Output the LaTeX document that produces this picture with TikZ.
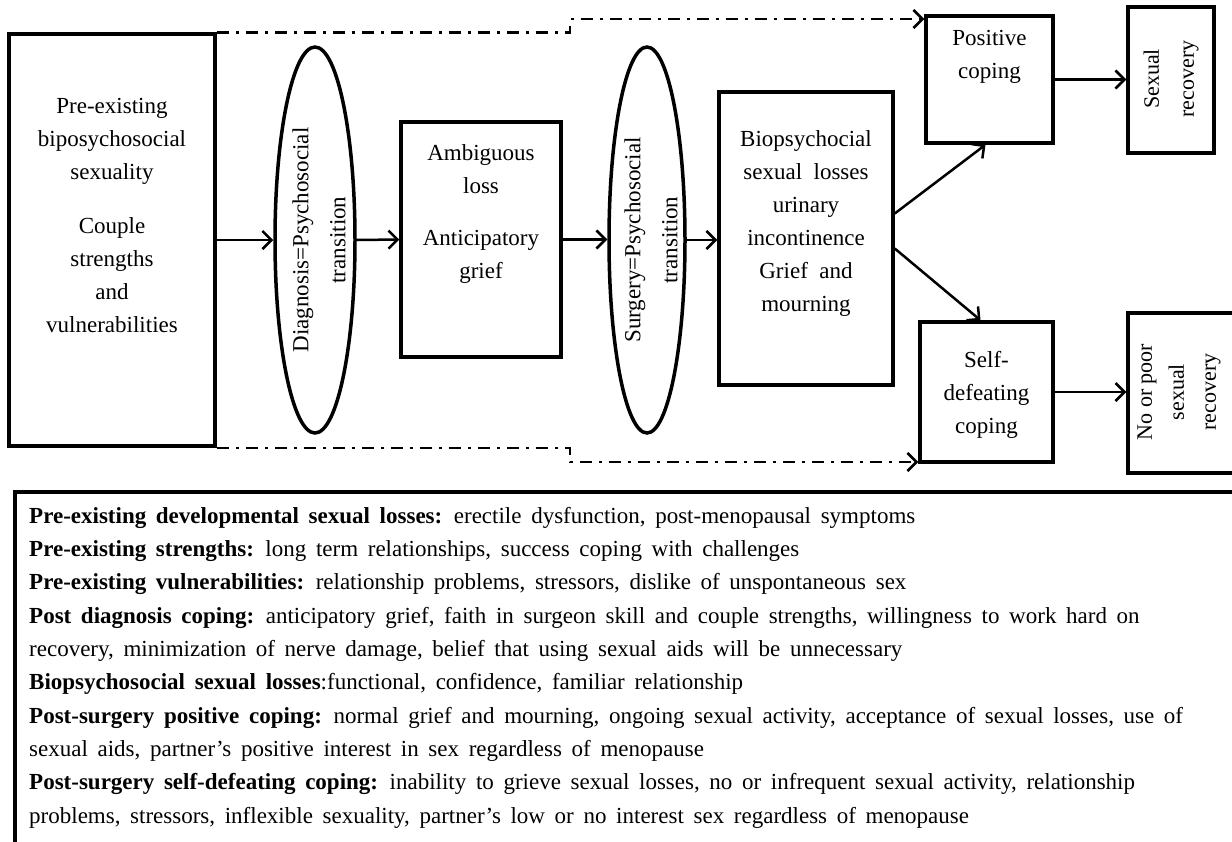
\documentclass[tikz,border=0pt]{standalone}
\usepackage{fontspec}
\setmainfont{Liberation Serif}
\usetikzlibrary{arrows.meta,positioning,calc,shapes.geometric}

\newcommand\keyfont{\fontsize{23}{33.3}\selectfont\spaceskip 0.42em\relax}

\tikzset{
  box/.style={draw, line width=3.5pt, inner sep=0pt},
  oval/.style={draw, ellipse, line width=3.5pt, inner sep=0pt},
  boxtext/.style={align=center, inner sep=0pt, font=\fontsize{23}{33}\selectfont},
  turned/.style={boxtext, rotate=90},
  flow/.style={line width=2.5pt, -{Straight Barb[length=9pt,width=18pt]}},
  dashflow/.style={flow, dash pattern=on 12pt off 7pt on 3pt off 7pt},
  keytext/.style={align=left, inner sep=0pt, font=\keyfont},
}

\begin{document}
\begin{tikzpicture}[x=1pt, y=-1pt]
        \useasboundingbox (0,0) rectangle (1232,841);

        % stages of the model
        \node[box, minimum width=206pt, minimum height=412pt] (pre) at (112,240) {};
        \node[oval, minimum width=80pt, minimum height=386pt] (diag) at (315,240) {};
        \node[box, minimum width=160pt, minimum height=235pt] (amb) at (481,239.5) {};
        \node[oval, minimum width=76pt, minimum height=386pt] (surg) at (647,240) {};
        \node[box, minimum width=174pt, minimum height=293pt] (bio) at (806,238.5) {};
        \node[box, minimum width=127pt, minimum height=127pt] (pos) at (989.5,79.5) {};
        \node[box, minimum width=86pt, minimum height=146pt] (sexrec) at (1171,80) {};
        \node[box, minimum width=133pt, minimum height=140pt] (selfd) at (986.5,392) {};
        \node[box, minimum width=108pt, minimum height=160pt] (nopoor) at (1182,393) {};

        % their texts (base = last line)
        \node[boxtext, anchor=base] (pretext) at (112,332)
          {Pre-existing\\biposychosocial\\sexuality\\[21pt]Couple\\strengths\\and\\vulnerabilities};
        \node[turned, font=\fontsize{23}{37}\selectfont] (diagtext) at ([xshift=4pt]diag.center)
          {Diagnosis=Psychosocial\\transition};
        \node[boxtext, anchor=base] (ambtext) at (481,278)
          {Ambiguous\\loss\\[19pt]Anticipatory\\grief};
        \node[turned, font=\fontsize{23}{37}\selectfont] (surgtext) at ([xshift=4pt]surg.center)
          {Surgery=Psychosocial\\transition};
        \node[boxtext, anchor=base] (biotext) at (806,311)
          {Biopsychocial\\sexual\ \ losses\\urinary\\incontinence\\Grief\ \ and\\mourning};
        \node[boxtext, anchor=base] (postext) at (989.5,78) {Positive\\coping};
        \node[boxtext, anchor=base] (selfdtext) at (986.5,433) {Self-\\defeating\\coping};
        \node[turned, font=\fontsize{22}{35}\selectfont] (sexrectext) at (1171,79) {Sexual\\recovery};
        \node[turned, font=\fontsize{22}{32}\selectfont] (nopoortext) at (1179,392)
          {No or poor\\sexual\\recovery};

        % main path
        \draw[flow] (pre.east) -- (diag.west);
        \draw[flow] (diag.east) -- (amb.west);
        \draw[flow] (amb.east) -- (amb.east -| surg.west);
        \draw[flow] (surg.east) -- (surg.east -| bio.west);
        \draw[flow] ([yshift=25pt]bio.east) -- ([xshift=-4pt]pos.south);
        \draw[flow] ([yshift=-10pt]bio.east) -- ([xshift=-6pt]selfd.north);
        \draw[flow] (pos.east) -- (pos.east -| sexrec.west);
        \draw[flow] (selfd.east) -- (selfd.east -| nopoor.west);

        % pre-existing factors carried over
        \coordinate (topbend) at (570,19);
        \coordinate (lowbend) at (570,462);
        \draw[dashflow] (pre.north east) -| (topbend) -- (topbend -| pos.west);
        \draw[dashflow] (pre.south east) -| (lowbend) -- (lowbend -| selfd.west);

        % key
        \node[box, anchor=north west, minimum width=1240pt, minimum height=360pt] (key) at (13,490) {};
        \node[keytext, anchor=base west] (keytext) at (29,823) {%
          \textbf{Pre-existing developmental sexual losses:} erectile dysfunction, post-menopausal symptoms\\
          \textbf{Pre-existing strengths:} long term relationships, success coping with challenges\\
          \textbf{Pre-existing vulnerabilities:} relationship problems, stressors, dislike of unspontaneous sex\\
          \textbf{Post diagnosis coping:} anticipatory grief, faith in surgeon skill and couple strengths, willingness to work hard on\\
          recovery, minimization of nerve damage, belief that using sexual aids will be unnecessary\\
          \textbf{Biopsychosocial sexual losses}:functional, confidence, familiar relationship\\
          \textbf{Post-surgery positive coping:} normal grief and mourning, ongoing sexual activity, acceptance of sexual losses, use of\\
          sexual aids, partner’s positive interest in sex regardless of menopause\\
          \textbf{Post-surgery self-defeating coping:} inability to grieve sexual losses, no or infrequent sexual activity, relationship\\
          problems, stressors, inflexible sexuality, partner’s low or no interest sex regardless of menopause};
      \end{tikzpicture}
\end{document}
